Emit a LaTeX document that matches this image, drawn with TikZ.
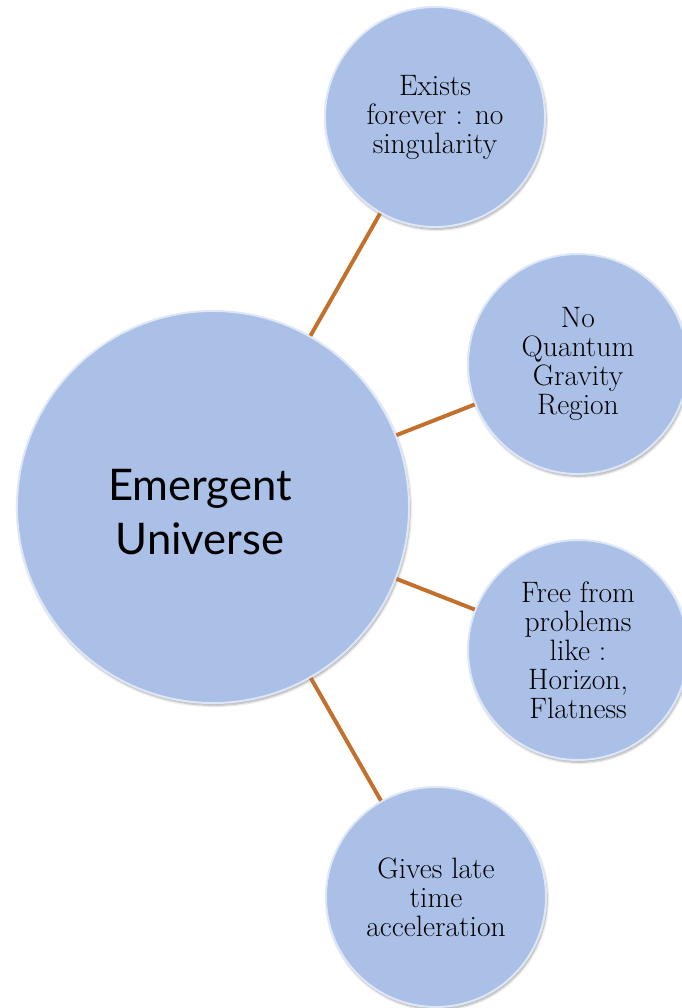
\documentclass[tikz,border=0pt]{standalone}
\usepackage{fontspec}
\newfontfamily\headfont{Lato}
\usetikzlibrary{shadows.blur}
\definecolor{bubblefill}{RGB}{170,192,231}
\definecolor{bubblerim}{RGB}{222,231,247}
\definecolor{spokebrown}{RGB}{196,112,45}

\begin{document}
\begin{tikzpicture}
	[x=0.025cm,y=-0.025cm,
	bubble/.style={circle,fill=bubblefill,draw=bubblerim,line width=1.4pt,inner sep=0pt,align=center,
		blur shadow={shadow xshift=0.8pt,shadow yshift=-1.6pt,shadow blur steps=6,shadow opacity=35}},
	hub/.style={bubble,minimum size=9.8cm},
	hubtext/.style={align=center,inner sep=0pt,font=\headfont\fontsize{31}{39}\selectfont},
	leaf/.style={bubble,minimum size=5.5cm,font=\fontsize{21}{20.6}\selectfont},
	spoke/.style={draw=spokebrown,line width=2.8pt}
	]
	\useasboundingbox (0,0) rectangle (682,1008);
	\node[hub] (universe) at (213,507) {};
	\node[hubtext] (universetext) at (200,512) {Emergent\\Universe};
	\node[leaf] (forever) at (435,117) {Exists\\forever : no\\singularity};
	\node[leaf] (quantum) at (578,364) {No\\Quantum\\Gravity\\Region};
	\node[leaf] (problems) at (578,650) {Free from\\problems\\like :\\Horizon,\\Flatness};
	\node[leaf] (accel) at (436,897) {Gives late\\time\\acceleration};
	% spokes from the hub
	\foreach \leafname in {forever,quantum,problems,accel}
		\draw[spoke] (universe) -- (\leafname);
\end{tikzpicture}
\end{document}
